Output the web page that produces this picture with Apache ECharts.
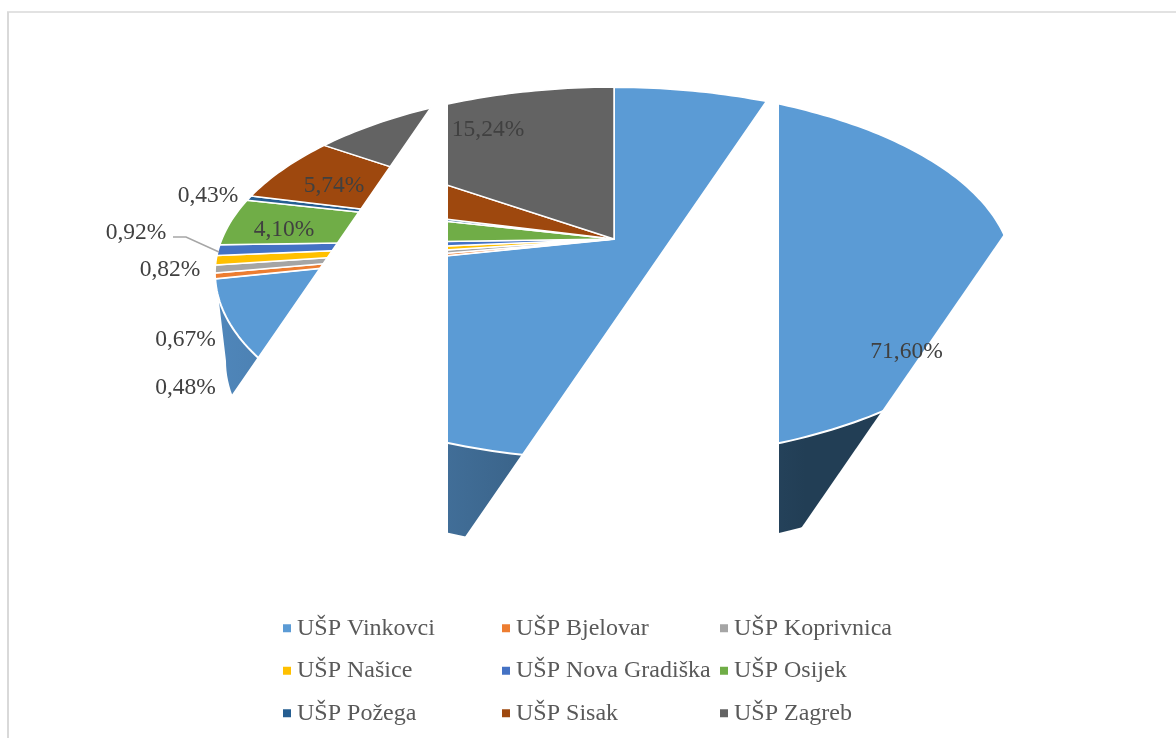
<!DOCTYPE html>
<html>
<head>
<meta charset="utf-8">
<style>
  html, body { margin: 0; padding: 0; background: #fff; }
  #main { width: 1176px; height: 738px; }
</style>
<script src="https://cdn.jsdelivr.net/npm/echarts@6/dist/echarts.min.js"></script>
</head>
<body>
<div id="main"></div>
<script>
// values, clockwise from 12 o'clock
var categories = ["UŠP Vinkovci", "UŠP Bjelovar", "UŠP Koprivnica", "UŠP Našice", "UŠP Nova Gradiška", "UŠP Osijek", "UŠP Požega", "UŠP Sisak", "UŠP Zagreb"];
var shares = [71.60, 0.48, 0.67, 0.82, 0.92, 4.10, 0.43, 5.74, 15.24];

var colors = ["#5B9BD5", "#ED7D31", "#A5A5A5", "#FFC000", "#4472C4", "#70AD47", "#255E91", "#9E480E", "#636363"];
var fontFamily = '"Liberation Serif", "Times New Roman", serif';

// centre of each label, same order as shares
var labelAnchors = [[906.5, 352], [185.5, 388], [185.5, 340], [170, 270], [136, 233], [284, 230], [208, 196], [334, 186], [488, 130]];

// tilted pie: a circle seen in perspective
var apex = [614, 239], scaleX = 392, scaleY = 180, tilt = 0.185;
var wallCenter = [614, 361], wallRx = 388, wallRy = 190;

function project(theta) {
  var d = 1 + tilt * Math.cos(theta);
  return [apex[0] + scaleX * Math.sin(theta) / d, apex[1] - scaleY * Math.cos(theta) / d];
}

function slicePoints(start, end) {
  var pts = [apex.slice()];
  var steps = Math.max(2, Math.ceil((end - start) / 0.02));
  for (var i = 0; i <= steps; i++) {
    pts.push(project(start + (end - start) * i / steps));
  }
  return pts;
}

function wallPoints() {
  var pts = [];
  var i, t;
  for (i = 0; i <= 120; i++) {
    t = (60 + (252 - 60) * i / 120) * Math.PI / 180;
    pts.push(project(t));
  }
  for (i = 0; i <= 120; i++) {
    t = Math.PI * i / 120;
    pts.push([wallCenter[0] - wallRx * Math.cos(t), wallCenter[1] + wallRy * Math.sin(t)]);
  }
  return pts;
}

function pct(v) {
  return v.toFixed(2).replace(".", ",") + "%";
}

function faceSeries(name, idx) {
  var before = 0;
  for (var i = 0; i < idx; i++) before += shares[i];
  return {
    type: "custom",
    name: name,
    coordinateSystem: "none",
    silent: true,
    z: 2,
    itemStyle: { color: colors[idx] },
    data: [[shares[idx]]],
    renderItem: function (params, api) {
      var start = before / 100 * 2 * Math.PI;
      var end = (before + api.value(0)) / 100 * 2 * Math.PI;
      var children = [];
      if (idx === 0) {
        children.push({
          type: "polygon",
          shape: { points: wallPoints() },
          style: {
            fill: new echarts.graphic.LinearGradient(217, 0, 805, 0, [
              { offset: 0, color: "#4F86BA" },
              { offset: 0.39, color: "#416E98" },
              { offset: 1, color: "#223E55" }
            ], true)
          }
        });
      }
      children.push({
        type: "polygon",
        shape: { points: slicePoints(start, end) },
        style: { fill: colors[idx], stroke: "#fff", lineWidth: idx === 0 ? 2 : 1.5, lineJoin: "round" }
      });
      return { type: "group", children: children };
    }
  };
}

// the white cuts through the pie
function cutLineX(x0, y0, y) {
  return x0 - 0.69 * (y - y0);
}

var cutsSeries = {
  type: "custom",
  name: "cuts",
  coordinateSystem: "none",
  silent: true,
  z: 3,
  data: [[0]],
  renderItem: function () {
    var white = { fill: "#fff" };
    return {
      type: "group",
      children: [
        { type: "polygon", shape: { points: [[cutLineX(429, 109, 60), 60], [448, 60], [448, 570], [cutLineX(429, 109, 570), 570]] }, style: white },
        { type: "polygon", shape: { points: [[cutLineX(765, 102, 60), 60], [779, 60], [779, 570], [cutLineX(765, 102, 570), 570]] }, style: white },
        { type: "polygon", shape: { points: [[cutLineX(1002, 237, 60), 60], [1176, 60], [1176, 570], [cutLineX(1002, 237, 570), 570]] }, style: white }
      ]
    };
  }
};

var labelSeries = {
  type: "custom",
  name: "labels",
  coordinateSystem: "none",
  silent: true,
  z: 4,
  data: shares.map(function (v) { return [v]; }),
  renderItem: function (params, api) {
    var a = labelAnchors[params.dataIndex];
    var children = [{
      type: "text",
      style: {
        x: a[0], y: a[1], text: pct(api.value(0)), align: "center", verticalAlign: "middle",
        fill: "#404040", font: "23.5px " + fontFamily
      }
    }];
    if (params.dataIndex === 4) {
      children.push({
        type: "polyline",
        shape: { points: [[173, 237], [186, 237], [219, 252]] },
        style: { stroke: "#A6A6A6", lineWidth: 1.5, fill: null }
      });
    }
    return { type: "group", children: children };
  }
};

function legendColumn(left, names) {
  return {
    left: left,
    top: 615,
    orient: "vertical",
    icon: "rect",
    itemWidth: 8,
    itemHeight: 8,
    itemGap: 16,
    selectedMode: false,
    padding: 0,
    data: names,
    textStyle: { fontFamily: fontFamily, fontSize: 24, color: "#595959", lineHeight: 26.5, padding: [0, 0, 0, 1] }
  };
}

var chart = echarts.init(document.getElementById("main"), null, { renderer: "canvas" });

var option = {
  animation: false,
  backgroundColor: "#fff",
  legend: [
    legendColumn(283, [categories[0], categories[3], categories[6]]),
    legendColumn(502, [categories[1], categories[4], categories[7]]),
    legendColumn(720, [categories[2], categories[5], categories[8]])
  ],
  graphic: [
    { type: "line", shape: { x1: 8, y1: 12, x2: 8, y2: 738 }, style: { stroke: "#D9D9D9", lineWidth: 2 } },
    { type: "line", shape: { x1: 7, y1: 12, x2: 1176, y2: 12 }, style: { stroke: "#D9D9D9", lineWidth: 1.5 } }
  ],
  series: categories.map(faceSeries).concat([cutsSeries, labelSeries])
};

chart.setOption(option);
</script>
</body>
</html>
